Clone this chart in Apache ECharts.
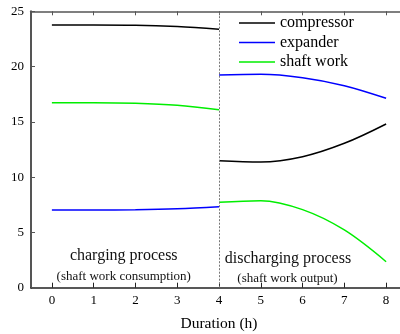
<!DOCTYPE html>
<html>
<head>
<meta charset="utf-8">
<script src="https://cdn.jsdelivr.net/npm/echarts@6/dist/echarts.min.js"></script>
<style>
  html, body { margin: 0; padding: 0; background: #fff; overflow: hidden; }
  #chart { width: 400px; height: 334px; }
</style>
</head>
<body>
<div id="chart"></div>
<script>
// Hours of operation for each phase
const chargeHours = [0, 1, 2, 3, 4];
const dischargeHours = [4, 5, 6, 7, 8];
const hourTicks = [0, 1, 2, 3, 4, 5, 6, 7, 8];

// Power during charging (0-4 h)
const compressorCharge = [23.76, 23.76, 23.74, 23.62, 23.38];
const expanderCharge = [7.03, 7.03, 7.06, 7.15, 7.33];
const shaftCharge = [16.73, 16.73, 16.68, 16.50, 16.10];

// Power during discharging (4-8 h)
const compressorDischarge = [11.49, 11.37, 11.85, 13.06, 14.81];
const expanderDischarge = [19.24, 19.30, 18.99, 18.27, 17.13];
const shaftDischarge = [7.72, 7.87, 7.06, 5.22, 2.35];

const seriesNames = ['compressor', 'expander', 'shaft work'];
const seriesColors = ['#000000', '#0000ff', '#00ee00'];

const FONT = '"Liberation Serif", "DejaVu Serif", serif';

function pairs(xs, ys) {
  return xs.map((x, i) => [x, ys[i]]);
}

function lineSeries(name, color, xs, ys) {
  return {
    name: name,
    type: 'line',
    data: pairs(xs, ys),
    smooth: 0.35,
    showSymbol: false,
    symbol: 'none',
    lineStyle: { color: color, width: 1.5 },
    itemStyle: { color: color },
    z: 3
  };
}

const series = [
  lineSeries(seriesNames[0], seriesColors[0], chargeHours, compressorCharge),
  lineSeries(seriesNames[1], seriesColors[1], chargeHours, expanderCharge),
  lineSeries(seriesNames[2], seriesColors[2], chargeHours, shaftCharge),
  lineSeries(seriesNames[0], seriesColors[0], dischargeHours, compressorDischarge),
  lineSeries(seriesNames[1], seriesColors[1], dischargeHours, expanderDischarge),
  lineSeries(seriesNames[2], seriesColors[2], dischargeHours, shaftDischarge)
];

// Dotted divider between the charging and discharging phases
series[0].markLine = {
  silent: true,
  symbol: 'none',
  label: { show: false },
  lineStyle: { color: '#777', type: [2, 1.5], width: 1 },
  data: [{ xAxis: 4 }]
};

const chart = echarts.init(document.getElementById('chart'), null, { renderer: 'canvas' });

const option = {
  animation: false,
  backgroundColor: '#fff',
  textStyle: { fontFamily: FONT },
  grid: { left: 31, right: -7, top: 11.3, bottom: 46.3, containLabel: false, outerBoundsMode: 'none' },
  legend: {
    data: seriesNames,
    orient: 'vertical',
    left: 239,
    top: 15,
    padding: 0,
    itemWidth: 36,
    itemHeight: 1.5,
    itemGap: 3.5,
    icon: 'rect',
    textStyle: { fontFamily: FONT, fontSize: 16, color: '#000' },
    selectedMode: false
  },
  xAxis: [
    {
      type: 'value',
      min: -0.5,
      max: 8.5,
      position: 'bottom',
      name: 'Duration (h)',
      nameLocation: 'middle',
      nameGap: 28,
      nameTextStyle: { fontFamily: FONT, fontSize: 15.5, color: '#000' },
      axisLine: { show: true, lineStyle: { color: '#222', width: 1.5 } },
      axisTick: { show: true, inside: true, length: 5, customValues: hourTicks, lineStyle: { color: '#222', width: 1 } },
      axisLabel: { show: true, customValues: hourTicks, margin: 6, fontFamily: FONT, fontSize: 13, color: '#000' },
      splitLine: { show: false }
    },
    {
      type: 'value',
      min: -0.5,
      max: 8.5,
      position: 'top',
      axisLine: { show: true, onZero: false, lineStyle: { color: '#555', width: 1.5 } },
      axisTick: { show: true, inside: true, length: 4, customValues: hourTicks, lineStyle: { color: '#555', width: 1 } },
      axisLabel: { show: false },
      splitLine: { show: false }
    }
  ],
  yAxis: [
    {
      type: 'value',
      min: 0,
      max: 25,
      interval: 5,
      position: 'left',
      axisLine: { show: true, onZero: false, lineStyle: { color: '#555', width: 2 } },
      axisTick: { show: true, inside: true, length: 4, lineStyle: { color: '#555', width: 1 } },
      axisLabel: { margin: 7, fontFamily: FONT, fontSize: 13, color: '#000' },
      splitLine: { show: false }
    },
    {
      type: 'value',
      min: 0,
      max: 25,
      interval: 5,
      position: 'right',
      axisLine: { show: true, onZero: false, lineStyle: { color: '#555', width: 1.5 } },
      axisTick: { show: true, inside: true, length: 4 },
      axisLabel: { show: false },
      splitLine: { show: false }
    }
  ],
  series: series
};

chart.setOption(option);

// Phase captions, placed in data coordinates
function caption(x, y, text, size) {
  const p = chart.convertToPixel({ xAxisIndex: 0, yAxisIndex: 0 }, [x, y]);
  return {
    type: 'text',
    x: p[0],
    y: p[1],
    style: {
      text: text,
      fontFamily: FONT,
      fontSize: size,
      fill: '#111',
      align: 'center',
      verticalAlign: 'middle'
    },
    silent: true,
    z: 10
  };
}

chart.setOption({
  graphic: [
    caption(1.72, 2.87, 'charging process', 16),
    caption(1.72, 0.99, '(shaft work consumption)', 13),
    caption(5.65, 2.65, 'discharging process', 16),
    caption(5.64, 0.81, '(shaft work output)', 13)
  ]
});
</script>
</body>
</html>
